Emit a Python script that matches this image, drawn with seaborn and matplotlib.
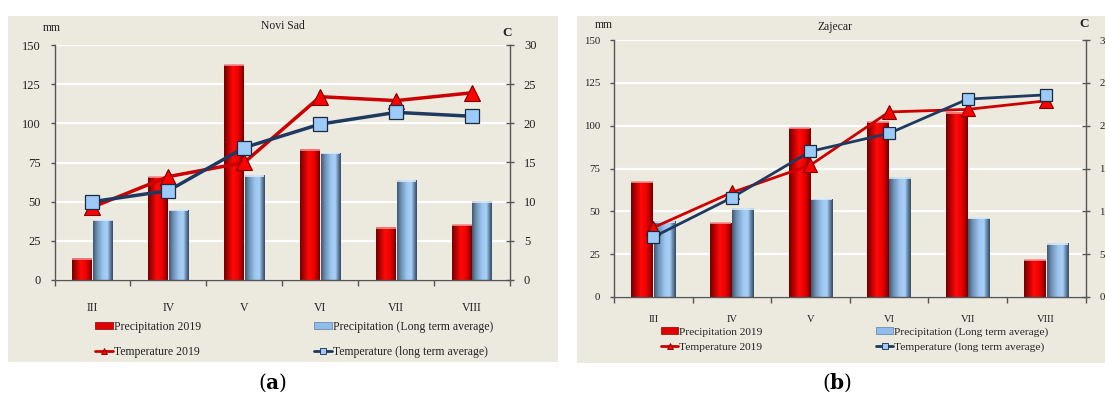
import numpy as np
import pandas as pd
import matplotlib
matplotlib.use("Agg")
import matplotlib.pyplot as plt
import seaborn as sns
from matplotlib.patches import Rectangle, Patch
from matplotlib.lines import Line2D
from matplotlib.colors import LinearSegmentedColormap

# ---------------- data ----------------
months = ["III", "IV", "V", "VI", "VII", "VIII"]

ns_prec_2019 = [13.5, 65.5, 137, 83, 33.5, 35]
ns_prec_lta = [38, 44.5, 66.5, 81, 63.5, 50]
ns_temp_2019 = [9.3, 13.2, 15.0, 23.4, 22.9, 23.9]
ns_temp_lta = [10.0, 11.4, 16.9, 19.9, 21.4, 20.9]

zj_prec_2019 = [67, 43, 98.5, 102, 107.5, 21.5]
zj_prec_lta = [44, 51.5, 57, 69.5, 46, 31]
zj_temp_2019 = [8.1, 12.2, 15.4, 21.6, 21.9, 22.9]
zj_temp_lta = [7.0, 11.6, 17.0, 19.1, 23.1, 23.6]

titles = ["Novi Sad", "Zajecar"]
captions = ["a", "b"]
series_names = ["Precipitation 2019", "Precipitation (Long term average)",
                "Temperature 2019", "Temperature (long term average)"]
left_ticks = [0, 25, 50, 75, 100, 125, 150]
right_ticks = [0, 5, 10, 15, 20, 25, 30]

# ---------------- style ----------------
sns.set_theme(style="white")
plt.rcParams["font.family"] = ["Liberation Serif", "DejaVu Serif"]
plt.rcParams["mathtext.fontset"] = "dejavuserif"

W, H = 1105, 396
fig = plt.figure(figsize=(W / 100, H / 100), dpi=100)
fig.patch.set_facecolor("white")

BEIGE = "#ECE9DF"
RED = "#E00000"
BLUE = "#8FBCEB"
LINE_RED = "#CC0000"
NAVY = "#1F3A60"
SQ_FILL = "#9CCBFA"
SPINE = "#555555"

red_cmap = LinearSegmentedColormap.from_list(
    "r", [(0.0, "#6E0000"), (0.18, "#B00000"), (0.45, "#FF0A0A"),
          (0.7, "#F00000"), (0.9, "#A00000"), (1.0, "#700000")])
blue_cmap = LinearSegmentedColormap.from_list(
    "b", [(0.0, "#3E5670"), (0.2, "#6E8FB2"), (0.5, "#9CC6F0"),
          (0.72, "#A8D0F8"), (0.88, "#5E7C9C"), (1.0, "#344A60")])


def fx(px):
    return px / W


def fy(py):
    return 1 - py / H


panels = [
    dict(prec=(ns_prec_2019, ns_prec_lta), temp=(ns_temp_2019, ns_temp_lta),
         box=(8, 16, 558, 362), axpx=(54.5, 45, 510, 280), barw=0.54,
         lw=2.5, ms_t=11, ms_s=9.5, tick_fs=9, x_fs=8.5, xpad=16,
         title_xy=(283, 26), mm_xy=(52, 28), c_xy=(507, 33),
         cap_xy=(273, 383), leg_cols=(95, 314), leg_top=321, leg_sp=1.1,
         leg_fs=8.5),
    dict(prec=(zj_prec_2019, zj_prec_lta), temp=(zj_temp_2019, zj_temp_lta),
         box=(577, 16, 1105, 363), axpx=(614, 40, 1085.5, 297), barw=0.57,
         lw=2.0, ms_t=9.5, ms_s=9, tick_fs=7.8, x_fs=7.6, xpad=13,
         title_xy=(835, 27), mm_xy=(604, 25), c_xy=(1084, 24),
         cap_xy=(837, 383), leg_cols=(661, 876), leg_top=327.5, leg_sp=0.45,
         leg_fs=8.2),
]

for i, p in enumerate(panels):
    # background box
    x0, y0, x1, y1 = p["box"]
    fig.patches.append(Rectangle((fx(x0), fy(y1)), fx(x1) - fx(x0), fy(y0) - fy(y1),
                                 transform=fig.transFigure, facecolor=BEIGE,
                                 edgecolor="none", zorder=-10))
    ax0, ay0, ax1, ay1 = p["axpx"]
    ax = fig.add_axes([fx(ax0), fy(ay1), fx(ax1) - fx(ax0), fy(ay0) - fy(ay1)])
    ax.set_facecolor("none")

    p2019, plta = p["prec"]
    df = pd.DataFrame({
        "month": months * 2,
        "prec": list(p2019) + list(plta),
        "series": [series_names[0]] * len(months) + [series_names[1]] * len(months),
    })
    sns.barplot(data=df, x="month", y="prec", hue="series", order=months,
                hue_order=series_names[:2], palette=[RED, BLUE],
                width=p["barw"], gap=0.04, legend=False, ax=ax,
                edgecolor="none", saturation=1)

    # cylindrical gradient overlay on each bar, with a light top cap
    grad = np.linspace(0, 1, 256)[None, :]
    for patch in list(ax.patches):
        bx, by = patch.get_x(), patch.get_y()
        bw, bh = patch.get_width(), patch.get_height()
        fc = patch.get_facecolor()[:3]
        is_red = fc[0] > 0.7 and fc[2] < 0.3
        cmap = red_cmap if is_red else blue_cmap
        ax.imshow(grad, extent=(bx, bx + bw, by, by + bh), aspect="auto",
                  cmap=cmap, interpolation="bilinear",
                  zorder=patch.get_zorder() + 0.1)
        ax.plot([bx, bx + bw], [by + bh, by + bh],
                color="#F09090" if is_red else "#DDEBF8", lw=1.2,
                solid_capstyle="butt", zorder=patch.get_zorder() + 0.2)

    ax.set_xlim(-0.5, len(months) - 0.5)
    ax.set_ylim(0, 150)
    ax.set_yticks(left_ticks)
    ax.yaxis.grid(True, color="white", linewidth=1.6)
    ax.xaxis.grid(False)
    ax.set_axisbelow(True)
    ax.set_xlabel("")
    ax.set_ylabel("")
    for s in ["top", "right"]:
        ax.spines[s].set_visible(False)
    for s in ["left", "bottom"]:
        ax.spines[s].set_color(SPINE)
        ax.spines[s].set_linewidth(1.0)
    ax.set_xticks(np.arange(-0.5, len(months), 1.0), minor=True)
    ax.tick_params(axis="x", which="major", length=0, pad=p["xpad"],
                   labelsize=p["x_fs"], colors="#222222")
    ax.tick_params(axis="x", which="minor", bottom=True, direction="out",
                   length=4, width=1, color=SPINE)
    ax.tick_params(axis="y", left=True, direction="out", length=3, width=1,
                   color=SPINE, pad=7, labelsize=p["tick_fs"], labelcolor="#222222")

    # temperatures on the secondary axis
    ax2 = ax.twinx()
    t2019, tlta = p["temp"]
    sns.pointplot(x=months, y=t2019, order=months, ax=ax2, color=LINE_RED,
                  marker="^", markersize=p["ms_t"], linewidth=p["lw"],
                  markerfacecolor="#FF0000", markeredgecolor="#7A0000",
                  markeredgewidth=0.8, errorbar=None)
    sns.pointplot(x=months, y=tlta, order=months, ax=ax2, color=NAVY,
                  marker="s", markersize=p["ms_s"], linewidth=p["lw"],
                  markerfacecolor=SQ_FILL, markeredgecolor="#1A2A40",
                  markeredgewidth=0.9, errorbar=None)
    ax2.set_ylim(0, 30)
    ax2.set_xlim(-0.5, len(months) - 0.5)
    ax2.set_yticks(right_ticks)
    ax2.set_ylabel("")
    ax2.grid(False)
    ax2.yaxis.tick_right()
    for s in ["top", "left", "bottom"]:
        ax2.spines[s].set_visible(False)
    ax2.spines["right"].set_color(SPINE)
    ax2.spines["right"].set_linewidth(1.0)
    ax2.tick_params(axis="y", right=True, direction="inout", length=6, width=1,
                    color=SPINE, pad=7, labelsize=p["tick_fs"], labelcolor="#222222")

    # texts
    fig.text(fx(p["title_xy"][0]), fy(p["title_xy"][1]), titles[i], ha="center",
             va="center", fontsize=8.4, color="#222222")
    fig.text(fx(p["mm_xy"][0]), fy(p["mm_xy"][1]), "mm", ha="center", va="center",
             fontsize=8.4, color="#222222")
    fig.text(fx(p["c_xy"][0]), fy(p["c_xy"][1]), "C", ha="center", va="center",
             fontsize=9.5, fontweight="bold", color="#222222")
    fig.text(fx(p["cap_xy"][0]), fy(p["cap_xy"][1]),
             "(" + r"$\mathbf{" + captions[i] + "}$" + ")",
             ha="center", va="center", fontsize=14.5,
             family=["DejaVu Serif"], color="black")

    # legends
    h_prec19 = Patch(facecolor=RED, edgecolor="#8B0000", linewidth=0.5)
    h_preclta = Patch(facecolor=BLUE, edgecolor="#5E7C9C", linewidth=0.5)
    h_t19 = Line2D([], [], color=LINE_RED, lw=2, marker="^", markersize=5,
                   markerfacecolor="#FF0000", markeredgecolor="#7A0000",
                   markeredgewidth=0.6)
    h_tlta = Line2D([], [], color=NAVY, lw=2, marker="s", markersize=5,
                    markerfacecolor=SQ_FILL, markeredgecolor="#1A2A40",
                    markeredgewidth=0.6)
    cols = [([h_prec19, h_t19], [series_names[0], series_names[2]]),
            ([h_preclta, h_tlta], [series_names[1], series_names[3]])]
    for (hs, ls), cx in zip(cols, p["leg_cols"]):
        fig.legend(hs, ls, loc="upper left",
                   bbox_to_anchor=(fx(cx), fy(p["leg_top"])),
                   bbox_transform=fig.transFigure, frameon=False,
                   borderpad=0, borderaxespad=0, handlelength=1.5,
                   handleheight=0.55, handletextpad=0.1,
                   labelspacing=p["leg_sp"], fontsize=p["leg_fs"],
                   labelcolor="#222222")

fig.savefig("out.png", dpi=100, facecolor=fig.get_facecolor())
